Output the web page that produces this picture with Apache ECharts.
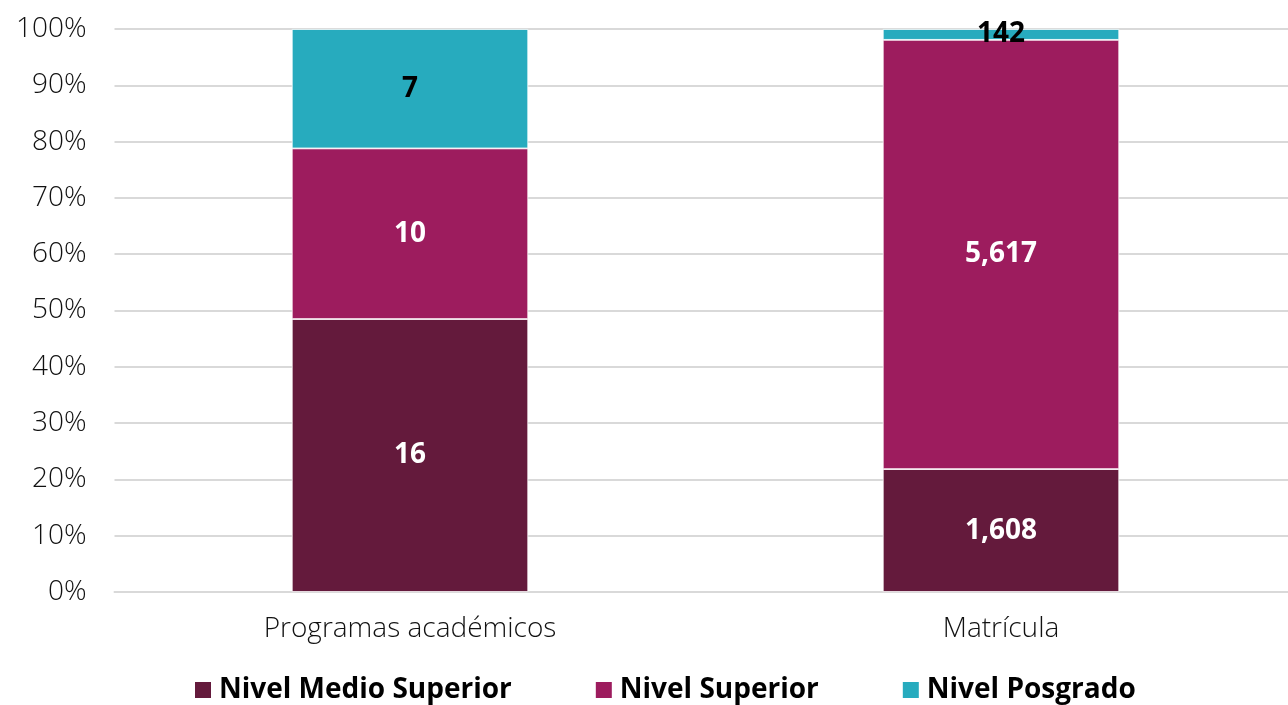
<!DOCTYPE html>
<html><head><meta charset="utf-8">
<script src="https://cdn.jsdelivr.net/npm/echarts@6/dist/echarts.min.js"></script>
<style>html,body{margin:0;padding:0;background:#fff;overflow:hidden}#c{width:1310px;height:705px}</style>
</head><body><div id="c"></div>
<script>
const categories = ["Programas académicos", "Matrícula"];
const seriesNames = ["Nivel Medio Superior", "Nivel Superior", "Nivel Posgrado"];
const medioSuperior = [16, 1608];
const superior = [10, 5617];
const posgrado = [7, 142];
const yTicks = [0, 10, 20, 30, 40, 50, 60, 70, 80, 90, 100];

const raw = [medioSuperior, superior, posgrado];
const totals = categories.map((_, i) => raw.reduce((s, a) => s + a[i], 0));
const colors = ["#641A3C", "#9D1C5E", "#27ABBE"];
const labelColors = ["#ffffff", "#ffffff", "#000000"];
const font = "'Open Sans', sans-serif";

const chart = echarts.init(document.getElementById('c'));
chart.setOption({
  animation: false,
  color: colors,
  grid: { left: 114.5, top: 29, width: 1182, height: 563, containLabel: false },
  legend: {
    top: 672, left: 193, itemWidth: 18, itemHeight: 18, itemGap: 82, padding: 0,
    icon: 'rect',
    textStyle: { fontFamily: font, fontSize: 28, fontWeight: 'bold', color: '#000', padding: [0, 0, 0, 2], lineHeight: 36 },
    data: seriesNames
  },
  xAxis: {
    type: 'category', data: categories,
    axisLine: { show: true, lineStyle: { color: '#D9D9D9', width: 2 } },
    axisTick: { show: false },
    axisLabel: { fontFamily: font, fontSize: 28, fontWeight: 300, color: '#111', margin: 23 }
  },
  yAxis: {
    type: 'value', min: 0, max: 100, interval: 10,
    axisLine: { show: false }, axisTick: { show: false },
    splitLine: { lineStyle: { color: '#D9D9D9', width: 2 } },
    axisLabel: { fontFamily: font, fontSize: 28, fontWeight: 300, color: '#111', margin: 28,
      formatter: v => yTicks.includes(v) ? v + '%' : '' }
  },
  series: seriesNames.map((name, k) => ({
    name, type: 'bar', stack: 'total', barWidth: '40%',
    itemStyle: { color: colors[k], borderColor: '#fff', borderWidth: 0.8 },
    label: {
      show: true, position: 'inside',
      color: labelColors[k], fontFamily: font, fontSize: 28, fontWeight: 'bold',
      formatter: p => raw[k][p.dataIndex].toLocaleString('en-US')
    },
    data: raw[k].map((v, i) => v / totals[i] * 100)
  }))
});
</script></body></html>
